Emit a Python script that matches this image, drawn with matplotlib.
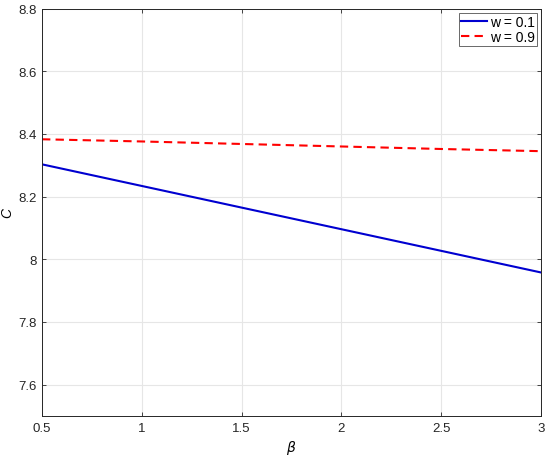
import numpy as np
import matplotlib.pyplot as plt

plt.rcParams['font.family'] = ['Liberation Sans', 'DejaVu Sans']

# datos
beta = [0.5, 1.0, 1.5, 2.0, 2.5, 3.0]
c_w01 = [8.303, 8.234, 8.165, 8.096, 8.027, 7.958]
c_w09 = [8.383, 8.376, 8.368, 8.360, 8.352, 8.345]

fig = plt.figure(figsize=(5.5, 4.56), dpi=100)
ax = fig.add_axes([0.0764, 0.0855, 0.9072, 0.8935])

ax.plot(beta, c_w01, color='#0000d0', linewidth=1.5, label='w = 0.1')
ax.plot(beta, c_w09, color='#ff0000', linewidth=1.5, linestyle=(0, (4, 2.5)), label='w = 0.9')

ax.set_xlim(0.5, 3)
ax.set_ylim(7.5, 8.8)
ax.set_xticks([0.5, 1, 1.5, 2, 2.5, 3])
ax.set_xticklabels(['0.5', '1', '1.5', '2', '2.5', '3'])
ax.set_yticks([7.6, 7.8, 8.0, 8.2, 8.4, 8.6, 8.8])
ax.set_yticklabels(['7.6', '7.8', '8', '8.2', '8.4', '8.6', '8.8'])

ax.grid(True, color='#e6e6e6', linewidth=0.8)
ax.set_axisbelow(True)
ax.tick_params(direction='in', length=3, width=0.6, labelsize=9.5, colors='#262626',
               top=True, right=True, pad=4)
for s in ax.spines.values():
    s.set_color('#262626')
    s.set_linewidth(0.7)

ax.set_xlabel(r'$\beta$', fontsize=10, labelpad=3)
ax.set_ylabel('C', fontsize=10, style='italic', labelpad=3)

leg = ax.legend(loc='upper right', fontsize=10, frameon=True, fancybox=False,
                borderaxespad=0.3, handlelength=1.9, handletextpad=0.2,
                borderpad=0.15, labelspacing=0.1)
leg.get_frame().set_edgecolor('#262626')
leg.get_frame().set_linewidth(0.6)

plt.savefig('out.png', dpi=100)
